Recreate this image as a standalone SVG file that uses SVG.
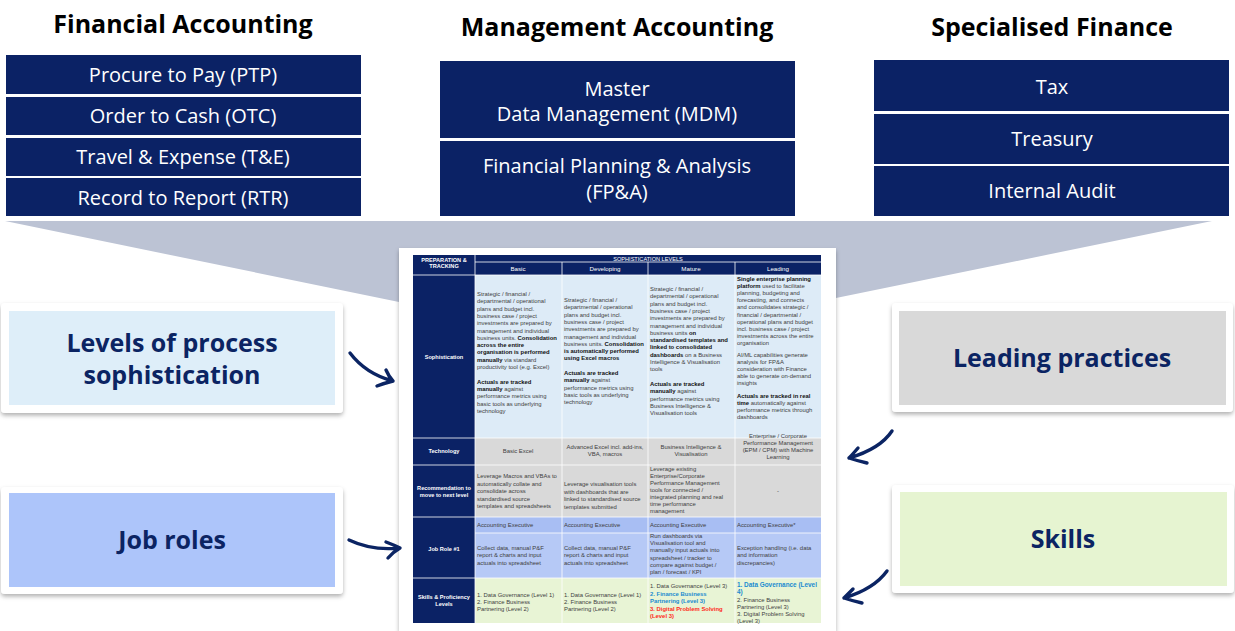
<svg xmlns="http://www.w3.org/2000/svg" width="1235" height="631" viewBox="0 0 1235 631">
<defs>
<style>
.ttl{font-family:"Open Sans","Liberation Sans",sans-serif;font-weight:700;font-size:25px;fill:#000;text-anchor:middle}
.box{fill:#0B2265}
.bt{font-family:"Open Sans","Liberation Sans",sans-serif;font-size:20px;fill:#fff;text-anchor:middle}
.card{fill:#fff;filter:url(#sh)}
.cl{font-family:"Open Sans","Liberation Sans",sans-serif;font-weight:700;font-size:25px;fill:#0B2463;text-anchor:middle}
.t{font-family:"Liberation Sans",Arial,sans-serif;font-size:5.9px;fill:#404040}
.c{text-anchor:middle}
.b{font-weight:700;fill:#111}
.h{font-family:"Liberation Sans",Arial,sans-serif;font-size:5.6px;fill:#fff;font-weight:700;text-anchor:middle}
.hs{font-family:"Liberation Sans",Arial,sans-serif;font-size:6.2px;fill:#fff;text-anchor:middle}
.sep{stroke:#fff;stroke-width:0.8}
.arr{fill:none;stroke:#0B2463;stroke-width:3.4;stroke-linecap:round;stroke-linejoin:round}
.blu{fill:#1B8BD0;font-weight:700}
.red{fill:#FF2A1A;font-weight:700}
</style>
<filter id="sh" x="-10%" y="-10%" width="120%" height="130%">
<feDropShadow dx="0" dy="2.5" stdDeviation="2" flood-color="#000" flood-opacity="0.3"/>
</filter>
</defs>
<rect width="1235" height="631" fill="#fff"/>

<!-- funnel -->
<polygon id="funnel" points="5,221 1212,221 836,298 399,302" fill="#BCC3D4"/>

<!-- Financial Accounting -->
<g id="financial-accounting">
<text class="ttl" x="183" y="33">Financial Accounting</text>
<rect class="box" x="6" y="55" width="355" height="39"/>
<text class="bt" x="183" y="82">Procure to Pay (PTP)</text>
<rect class="box" x="6" y="97" width="355" height="38"/>
<text class="bt" x="183" y="123">Order to Cash (OTC)</text>
<rect class="box" x="6" y="138" width="355" height="38"/>
<text class="bt" x="183" y="164">Travel &amp; Expense (T&amp;E)</text>
<rect class="box" x="6" y="178" width="355" height="38"/>
<text class="bt" x="183" y="205">Record to Report (RTR)</text>
</g>

<!-- Management Accounting -->
<g id="management-accounting">
<text class="ttl" x="617" y="36">Management Accounting</text>
<rect class="box" x="440" y="61" width="355" height="77"/>
<text class="bt" x="617" y="96">Master</text>
<text class="bt" x="617" y="121">Data Management (MDM)</text>
<rect class="box" x="440" y="141" width="355" height="75"/>
<text class="bt" x="617" y="173">Financial Planning &amp; Analysis</text>
<text class="bt" x="617" y="199">(FP&amp;A)</text>
</g>

<!-- Specialised Finance -->
<g id="specialised-finance">
<text class="ttl" x="1052" y="36">Specialised Finance</text>
<rect class="box" x="874" y="60" width="355" height="51"/>
<text class="bt" x="1052" y="94">Tax</text>
<rect class="box" x="874" y="114" width="355" height="50"/>
<text class="bt" x="1052" y="146">Treasury</text>
<rect class="box" x="874" y="166" width="355" height="50"/>
<text class="bt" x="1052" y="198">Internal Audit</text>
</g>

<!-- Left cards -->
<g id="levels-card">
<rect class="card" x="1" y="303" width="342" height="110" rx="4"/>
<rect x="9" y="311" width="326" height="94" fill="#DEEEF9"/>
<text class="cl" x="172" y="352">Levels of process</text>
<text class="cl" x="172" y="384">sophistication</text>
</g>
<g id="jobroles-card">
<rect class="card" x="1" y="487" width="342" height="107" rx="4"/>
<rect x="9" y="493" width="326" height="94" fill="#ADC5FA"/>
<text class="cl" x="172" y="549">Job roles</text>
</g>

<!-- Right cards -->
<g id="leading-card">
<rect class="card" x="892" y="303" width="341" height="109" rx="4"/>
<rect x="899" y="311" width="327" height="94" fill="#D9D9D9"/>
<text class="cl" x="1062" y="367">Leading practices</text>
</g>
<g id="skills-card">
<rect class="card" x="892" y="485" width="342" height="108" rx="4"/>
<rect x="900" y="492" width="327" height="94" fill="#E6F4D1"/>
<text class="cl" x="1063" y="548">Skills</text>
</g>

<!-- Central table -->
<g id="maturity-table">
<rect x="399" y="248" width="437" height="383" fill="#fff" filter="url(#sh)"/>
<rect x="413" y="255" width="408" height="20" fill="#0B2265"/>
<rect x="413" y="275" width="62" height="348" fill="#0B2265"/>
<rect x="475" y="275" width="346" height="163" fill="#DDEBF7"/>
<rect x="475" y="438" width="346" height="79" fill="#D9D9D9"/>
<rect x="475" y="517" width="346" height="16" fill="#A8BEF3"/>
<rect x="475" y="533" width="346" height="45" fill="#B6C9F6"/>
<rect x="475" y="578" width="346" height="45" fill="#E8F4D5"/>
<g class="sep">
<line x1="475" y1="255" x2="475" y2="623"/>
<line x1="475" y1="262" x2="821" y2="262"/>
<line x1="562" y1="262" x2="562" y2="623"/>
<line x1="648" y1="262" x2="648" y2="623"/>
<line x1="735" y1="262" x2="735" y2="623"/>
<line x1="413" y1="275" x2="821" y2="275"/>
<line x1="413" y1="438" x2="821" y2="438"/>
<line x1="413" y1="465" x2="821" y2="465"/>
<line x1="413" y1="517" x2="821" y2="517"/>
<line x1="475" y1="533" x2="821" y2="533"/>
<line x1="413" y1="578" x2="821" y2="578"/>
</g>
<text class="h" x="444" y="262">PREPARATION &amp;<tspan x="444" dy="6">TRACKING</tspan></text>
<text class="h" x="648" y="260.5" style="font-weight:400">SOPHISTICATION LEVELS</text>
<text class="hs" x="518" y="271">Basic</text>
<text class="hs" x="605" y="271">Developing</text>
<text class="hs" x="691" y="271">Mature</text>
<text class="hs" x="778" y="271">Leading</text>

<text class="h" x="444" y="359">Sophistication</text>
<text class="h" x="444" y="453">Technology</text>
<text class="h" x="444" y="490">Recommendation to<tspan x="444" dy="6.5">move to next level</tspan></text>
<text class="h" x="444" y="551">Job Role #1</text>
<text class="h" x="444" y="599">Skills &amp; Proficiency<tspan x="444" dy="7">Levels</tspan></text>

<!-- Sophistication row -->
<text class="t" y="296">
<tspan x="477">Strategic / financial /</tspan>
<tspan x="477" dy="7.3">departmental / operational</tspan>
<tspan x="477" dy="7.3">plans and budget incl.</tspan>
<tspan x="477" dy="7.3">business case / project</tspan>
<tspan x="477" dy="7.3">investments are prepared by</tspan>
<tspan x="477" dy="7.3">management and individual</tspan>
<tspan x="477" dy="7.3">business units. <tspan class="b">Consolidation</tspan></tspan>
<tspan x="477" dy="7.3" class="b">across the entire</tspan>
<tspan x="477" dy="7.3" class="b">organisation is performed</tspan>
<tspan x="477" dy="7.3"><tspan class="b">manually</tspan> via standard</tspan>
<tspan x="477" dy="7.3">productivity tool (e.g. Excel)</tspan>
<tspan x="477" dy="14.6" class="b">Actuals are tracked</tspan>
<tspan x="477" dy="7.3"><tspan class="b">manually</tspan> against</tspan>
<tspan x="477" dy="7.3">performance metrics using</tspan>
<tspan x="477" dy="7.3">basic tools as underlying</tspan>
<tspan x="477" dy="7.3">technology</tspan>
</text>
<text class="t" y="302">
<tspan x="564">Strategic / financial /</tspan>
<tspan x="564" dy="7.3">departmental / operational</tspan>
<tspan x="564" dy="7.3">plans and budget incl.</tspan>
<tspan x="564" dy="7.3">business case / project</tspan>
<tspan x="564" dy="7.3">investments are prepared by</tspan>
<tspan x="564" dy="7.3">management and individual</tspan>
<tspan x="564" dy="7.3">business units. <tspan class="b">Consolidation</tspan></tspan>
<tspan x="564" dy="7.3" class="b">is automatically performed</tspan>
<tspan x="564" dy="7.3" class="b">using Excel macros</tspan>
<tspan x="564" dy="14.6" class="b">Actuals are tracked</tspan>
<tspan x="564" dy="7.3"><tspan class="b">manually</tspan> against</tspan>
<tspan x="564" dy="7.3">performance metrics using</tspan>
<tspan x="564" dy="7.3">basic tools as underlying</tspan>
<tspan x="564" dy="7.3">technology</tspan>
</text>
<text class="t" y="291">
<tspan x="650">Strategic / financial /</tspan>
<tspan x="650" dy="7.3">departmental / operational</tspan>
<tspan x="650" dy="7.3">plans and budget incl.</tspan>
<tspan x="650" dy="7.3">business case / project</tspan>
<tspan x="650" dy="7.3">investments are prepared by</tspan>
<tspan x="650" dy="7.3">management and individual</tspan>
<tspan x="650" dy="7.3">business units <tspan class="b">on</tspan></tspan>
<tspan x="650" dy="7.3" class="b">standardised templates and</tspan>
<tspan x="650" dy="7.3" class="b">linked to consolidated</tspan>
<tspan x="650" dy="7.3"><tspan class="b">dashboards</tspan> on a Business</tspan>
<tspan x="650" dy="7.3">Intelligence &amp; Visualisation</tspan>
<tspan x="650" dy="7.3">tools</tspan>
<tspan x="650" dy="14.6" class="b">Actuals are tracked</tspan>
<tspan x="650" dy="7.3"><tspan class="b">manually</tspan> against</tspan>
<tspan x="650" dy="7.3">performance metrics using</tspan>
<tspan x="650" dy="7.3">Business Intelligence &amp;</tspan>
<tspan x="650" dy="7.3">Visualisation tools</tspan>
</text>
<text class="t" y="281">
<tspan x="737" class="b">Single enterprise planning</tspan>
<tspan x="737" dy="7.1"><tspan class="b">platform</tspan> used to facilitate</tspan>
<tspan x="737" dy="7.1">planning, budgeting and</tspan>
<tspan x="737" dy="7.1">forecasting, and connects</tspan>
<tspan x="737" dy="7.1">and consolidates strategic /</tspan>
<tspan x="737" dy="7.1">financial / departmental /</tspan>
<tspan x="737" dy="7.1">operational plans and budget</tspan>
<tspan x="737" dy="7.1">incl. business case / project</tspan>
<tspan x="737" dy="7.1">investments across the entire</tspan>
<tspan x="737" dy="7.1">organisation</tspan>
<tspan x="737" dy="12">AI/ML capabilities generate</tspan>
<tspan x="737" dy="7.1">analysis for FP&amp;A</tspan>
<tspan x="737" dy="7.1">consideration with Finance</tspan>
<tspan x="737" dy="7.1">able to generate on-demand</tspan>
<tspan x="737" dy="7.1">insights</tspan>
<tspan x="737" dy="12.5" class="b">Actuals are tracked  in real</tspan>
<tspan x="737" dy="7.1"><tspan class="b">time</tspan> automatically against</tspan>
<tspan x="737" dy="7.1">performance metrics through</tspan>
<tspan x="737" dy="7.1">dashboards</tspan>
</text>

<!-- Technology row -->
<text class="t c" x="518" y="453">Basic Excel</text>
<text class="t c" x="605" y="449">Advanced Excel incl. add-ins,<tspan x="605" dy="7">VBA, macros</tspan></text>
<text class="t c" x="691" y="449">Business Intelligence &amp;<tspan x="691" dy="7">Visualisation</tspan></text>
<text class="t c" x="778" y="438">Enterprise / Corporate<tspan x="778" dy="7">Performance Management</tspan><tspan x="778" dy="7">(EPM / CPM) with Machine</tspan><tspan x="778" dy="7">Learning</tspan></text>

<!-- Recommendation row -->
<text class="t" y="478"><tspan x="477">Leverage Macros and VBAs to</tspan><tspan x="477" dy="7.5">automatically collate and</tspan><tspan x="477" dy="7.5">consolidate across</tspan><tspan x="477" dy="7.5">standardised source</tspan><tspan x="477" dy="7.5">templates and spreadsheets</tspan></text>
<text class="t" y="486"><tspan x="564">Leverage visualisation tools</tspan><tspan x="564" dy="7.5">with dashboards that are</tspan><tspan x="564" dy="7.5">linked to standardised source</tspan><tspan x="564" dy="7.5">templates submitted</tspan></text>
<text class="t" y="471"><tspan x="650">Leverage existing</tspan><tspan x="650" dy="7">Enterprise/Corporate</tspan><tspan x="650" dy="7">Performance Management</tspan><tspan x="650" dy="7">tools for connected /</tspan><tspan x="650" dy="7">integrated planning and real</tspan><tspan x="650" dy="7">time performance</tspan><tspan x="650" dy="7">management</tspan></text>
<text class="t c" x="778" y="493">-</text>

<!-- Job role row -->
<text class="t" x="477" y="527">Accounting Executive</text>
<text class="t" x="564" y="527">Accounting Executive</text>
<text class="t" x="650" y="527">Accounting Executive</text>
<text class="t" x="737" y="527">Accounting Executive*</text>
<text class="t" y="550"><tspan x="477">Collect data, manual P&amp;F</tspan><tspan x="477" dy="7.3">report &amp; charts and input</tspan><tspan x="477" dy="7.3">actuals into spreadsheet</tspan></text>
<text class="t" y="550"><tspan x="564">Collect data, manual P&amp;F</tspan><tspan x="564" dy="7.3">report &amp; charts and input</tspan><tspan x="564" dy="7.3">actuals into spreadsheet</tspan></text>
<text class="t" y="538"><tspan x="650">Run dashboards via</tspan><tspan x="650" dy="7.2">Visualisation tool and</tspan><tspan x="650" dy="7.2">manually input actuals into</tspan><tspan x="650" dy="7.2">spreadsheet / tracker to</tspan><tspan x="650" dy="7.2">compare against budget /</tspan><tspan x="650" dy="7.2">plan / forecast / KPI</tspan></text>
<text class="t" y="550"><tspan x="737">Exception handling (i.e. data</tspan><tspan x="737" dy="7.3">and information</tspan><tspan x="737" dy="7.3">discrepancies)</tspan></text>

<!-- Skills row -->
<text class="t" y="597"><tspan x="477">1. Data Governance (Level 1)</tspan><tspan x="477" dy="7">2. Finance Business</tspan><tspan x="477" dy="7">Partnering (Level 2)</tspan></text>
<text class="t" y="597"><tspan x="564">1. Data Governance (Level 1)</tspan><tspan x="564" dy="7">2. Finance Business</tspan><tspan x="564" dy="7">Partnering (Level 2)</tspan></text>
<text class="t" y="588"><tspan x="650">1. Data Governance (Level 3)</tspan><tspan x="650" dy="7.6" class="blu">2. Finance Business</tspan><tspan x="650" dy="7.6" class="blu">Partnering (Level 3)</tspan><tspan x="650" dy="7.6" class="red">3. Digital Problem Solving</tspan><tspan x="650" dy="7.6" class="red">(Level 3)</tspan></text>
<text class="t" y="587"><tspan x="737" class="blu" style="font-size:6.4px">1. Data Governance (Level</tspan><tspan x="737" dy="6.6" class="blu" style="font-size:6.4px">4)</tspan><tspan x="737" dy="8">2. Finance Business</tspan><tspan x="737" dy="7">Partnering (Level 3)</tspan><tspan x="737" dy="7">3. Digital Problem Solving</tspan><tspan x="737" dy="7">(Level 3)</tspan></text>
</g>

<!-- connectors -->
<g id="connectors">
<path class="arr" d="M350,353 Q366,374 393,381 M386,370 Q389,377 393,381 Q385,383 377,386"/>
<path class="arr" d="M349,540 Q372,551 400,548 M386,542 Q394,545 400,548 Q393,552 388,558"/>
<path class="arr" d="M892,431 Q880,449 849,458 M858,448 Q852,455 849,458 Q858,461 867,463"/>
<path class="arr" d="M887,571 Q874,589 844,598 M853,589 Q847,595 844,598 Q853,601 862,603"/>
</g>
</svg>
